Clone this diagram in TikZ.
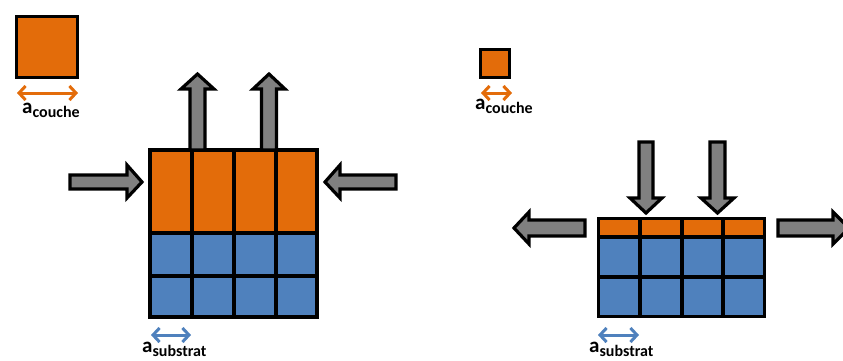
\documentclass[tikz,border=0pt]{standalone}
\usepackage{fontspec}
\setmainfont{Carlito}
\usetikzlibrary{arrows.meta}
\definecolor{orng}{RGB}{227,108,10}
\definecolor{blu}{RGB}{79,129,189}
\definecolor{gry}{RGB}{128,128,128}
\tikzset{
  blockarrow/.style={fill=gry,draw=black,line width=3.2pt,line join=miter},
  cellgrid/.style={draw=black,line width=3.3pt},
  dimarrow/.style={line width=3pt,{Straight Barb[length=6.5pt,width=14pt]}-{Straight Barb[length=6.5pt,width=14pt]}},
  lbl/.style={anchor=base west,inner sep=0pt,font=\bfseries}
}
\newcommand{\lblA}[1]{{\fontsize{21}{21}\selectfont a}{\fontsize{16}{16}\selectfont\raisebox{-4.5pt}{#1}}}
\begin{document}
\begin{tikzpicture}[x=1pt,y=-1pt]
\useasboundingbox (0,0) rectangle (843,360);
\clip (0,0) rectangle (843,360);
% ---------- left panel ----------
\draw[cellgrid,fill=orng] (16.5,16.5) rectangle (77.5,77.5);
\coordinate (lcA) at (17,93); \coordinate (lcB) at (78,93);
\draw[dimarrow,orng] (lcA) -- (lcB);
\node[lbl] (lcouche) at (22,113) {\lblA{couche}};
\fill[orng] (150,150) rectangle (317,233);
\fill[blu] (150,233) rectangle (317,317);
\draw[cellgrid] (150,150) rectangle (317,317);
\foreach \x in {192,234,276} \draw[cellgrid] (\x,150) -- (\x,317);
\draw[cellgrid] (150,233) -- (317,233);
\draw[cellgrid] (150,276) -- (317,276);
\draw[blockarrow] (190,150)--(190,89)--(181,89)--(197.5,74)--(214,89)--(205,89)--(205,150)--cycle;
\draw[blockarrow] (261.5,150)--(261.5,89)--(253,89)--(269,74)--(285,89)--(276.5,89)--(276.5,150)--cycle;
\draw[blockarrow] (70,175)--(127,175)--(127,165)--(142,182)--(127,198)--(127,189)--(70,189)--cycle;
\draw[blockarrow] (396,175)--(340,175)--(340,165)--(325,182)--(340,198)--(340,189)--(396,189)--cycle;
\coordinate (lsA) at (151,335); \coordinate (lsB) at (191,335);
\draw[dimarrow,blu] (lsA) -- (lsB);
\node[lbl] (lsub) at (142,352) {\lblA{substrat}};
% ---------- right panel ----------
\draw[cellgrid,fill=orng] (480.5,49.5) rectangle (509.5,77.5);
\coordinate (rcA) at (481,93); \coordinate (rcB) at (512,93);
\draw[dimarrow,orng] (rcA) -- (rcB);
\node[lbl] (rcouche) at (475,109) {\lblA{couche}};
\fill[orng] (598.5,218.5) rectangle (764.5,237);
\fill[blu] (598.5,237) rectangle (764.5,316.5);
\draw[cellgrid] (598.5,218.5) rectangle (764.5,316.5);
\foreach \x in {640,682,723} \draw[cellgrid] (\x,218.5) -- (\x,316.5);
\draw[cellgrid] (598.5,237) -- (764.5,237);
\draw[cellgrid] (598.5,277) -- (764.5,277);
\draw[blockarrow] (639,142)--(653,142)--(653,198)--(662,198)--(646,213)--(630,198)--(639,198)--cycle;
\draw[blockarrow] (710,142)--(725,142)--(725,198)--(734,198)--(717.5,213)--(701,198)--(710,198)--cycle;
\draw[blockarrow] (585,220)--(529,220)--(529,212)--(514,228)--(529,244)--(529,236)--(585,236)--cycle;
\draw[blockarrow] (778,220)--(833,220)--(833,212)--(849,228)--(833,244)--(833,236)--(778,236)--cycle;
\coordinate (rsA) at (598,335); \coordinate (rsB) at (639,335);
\draw[dimarrow,blu] (rsA) -- (rsB);
\node[lbl] (rsub) at (589,352) {\lblA{substrat}};
\end{tikzpicture}
\end{document}
